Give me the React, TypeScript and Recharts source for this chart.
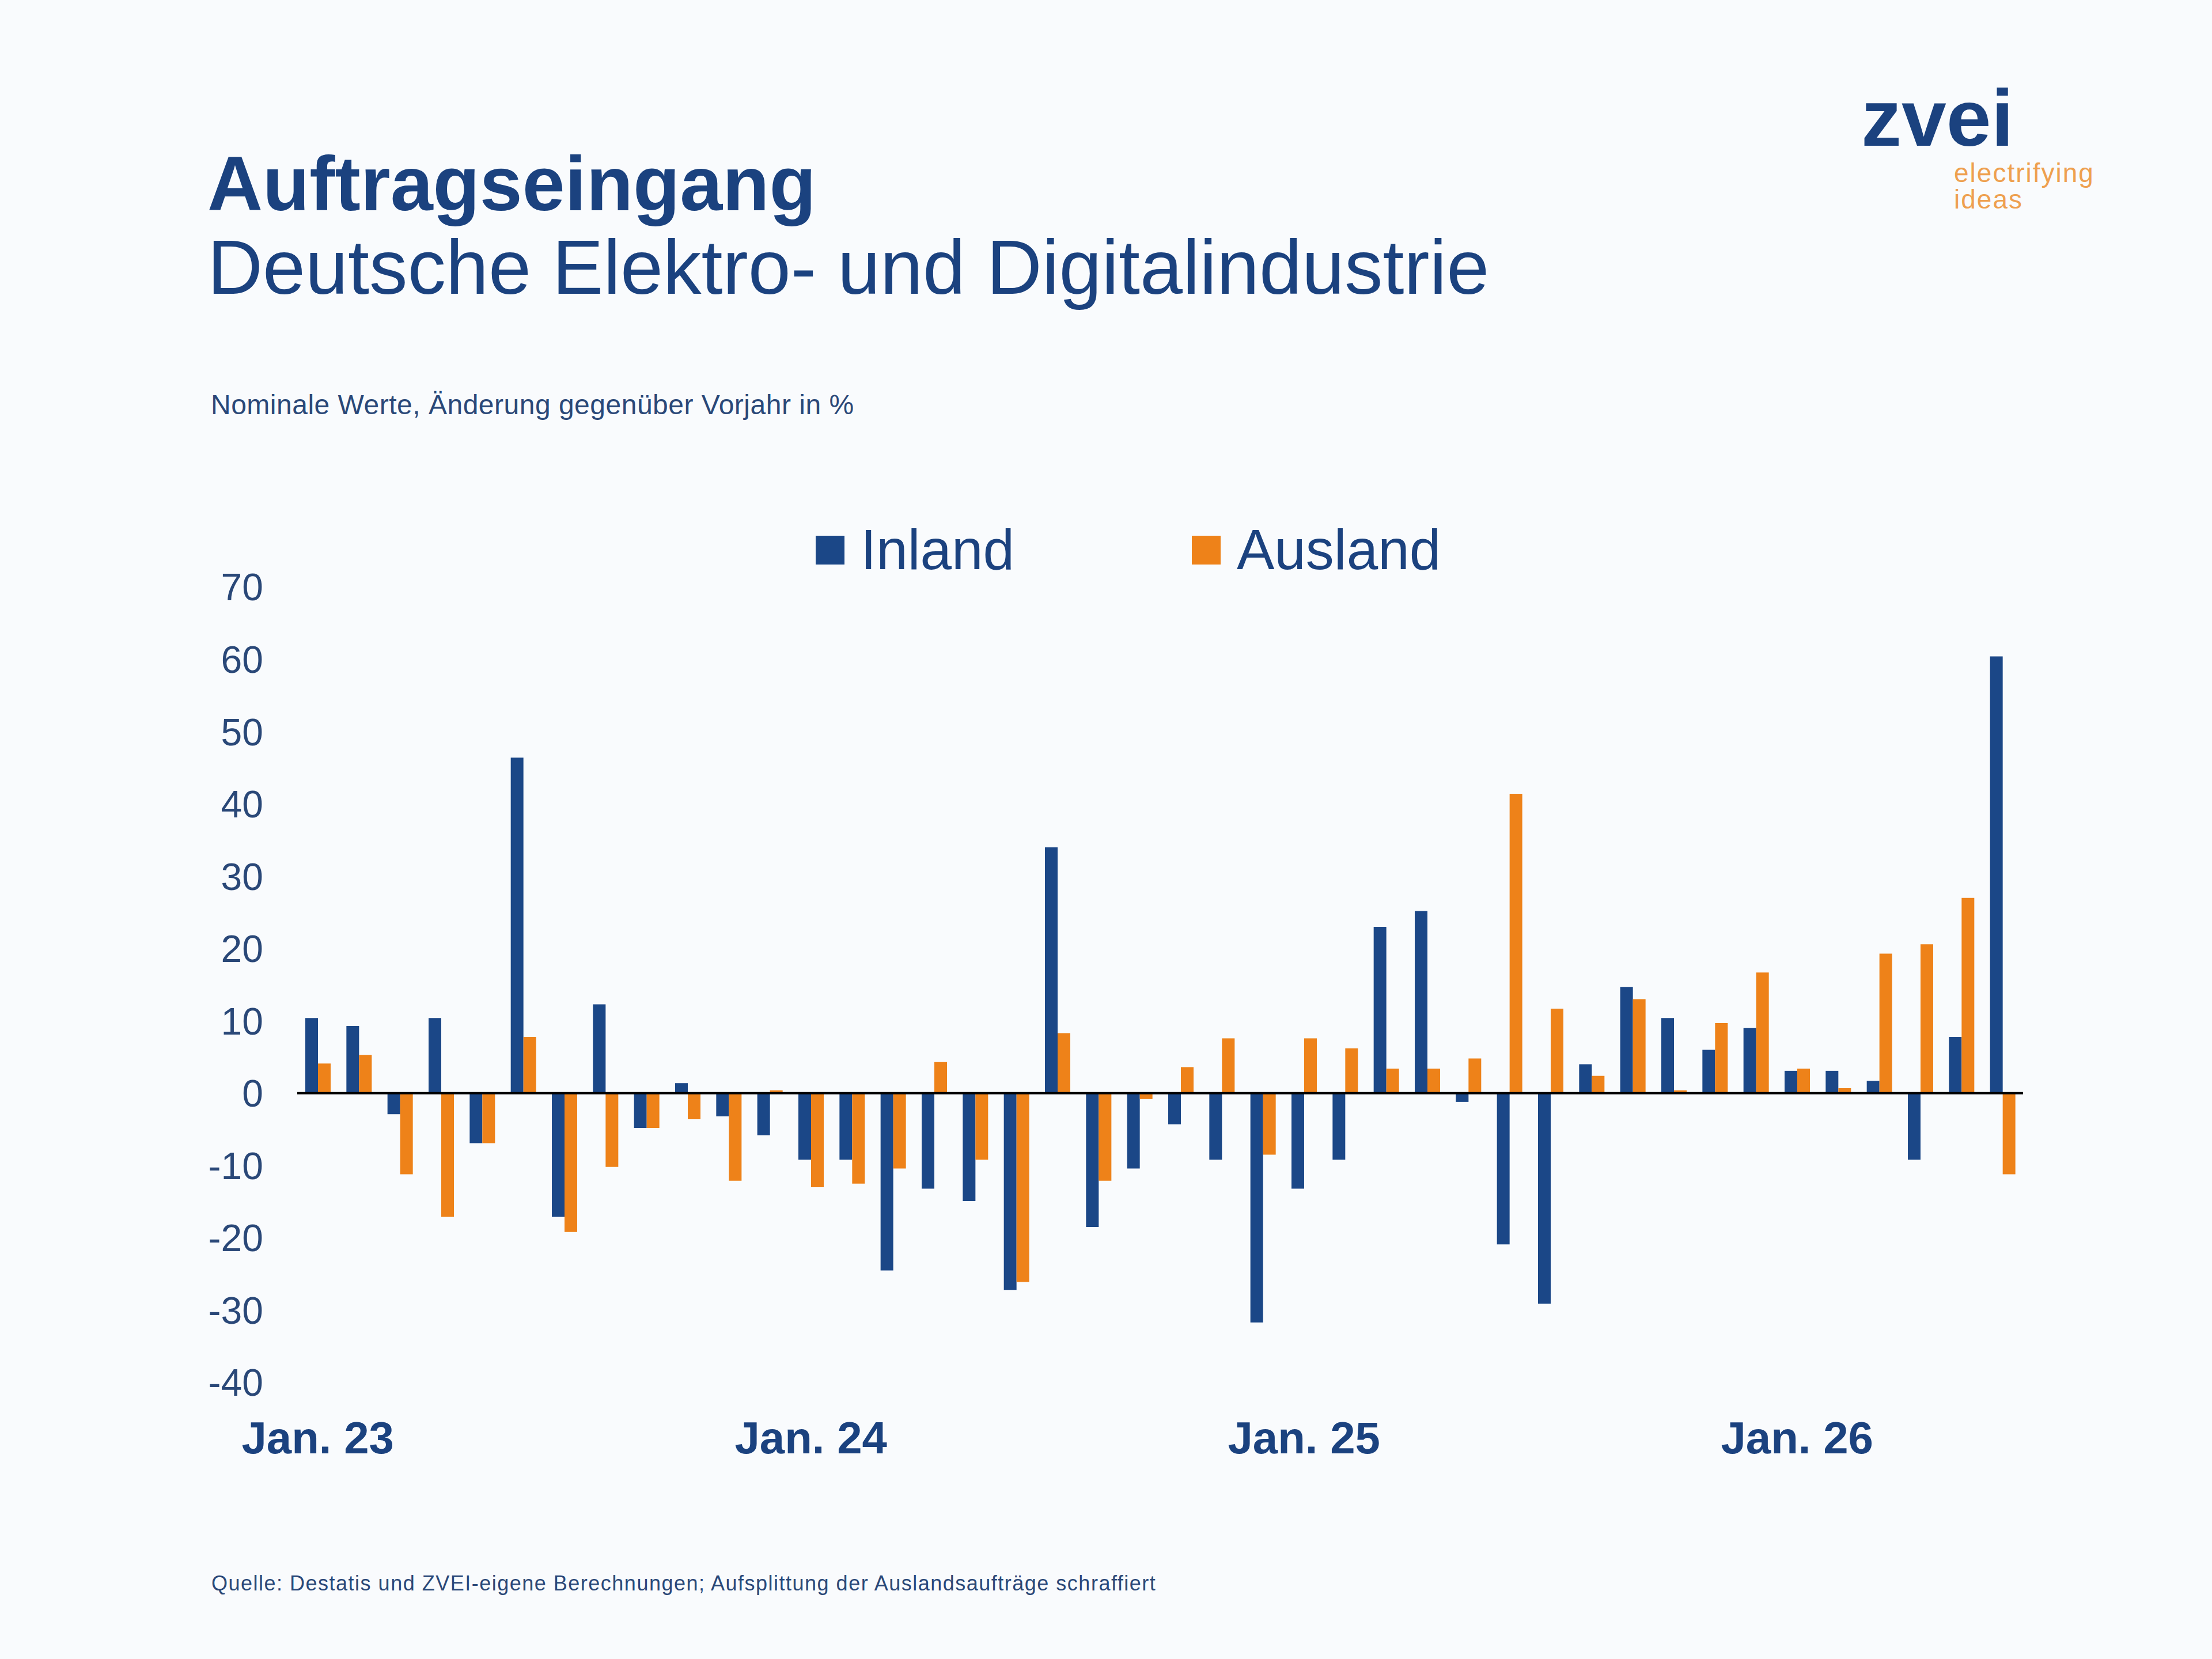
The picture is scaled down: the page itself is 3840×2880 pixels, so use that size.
import React from 'react';
import { BarChart, Bar, XAxis, YAxis, ReferenceLine } from 'recharts';

const monthNames = ['Jan.', 'Feb.', 'Mär.', 'Apr.', 'Mai', 'Jun.', 'Jul.', 'Aug.', 'Sep.', 'Okt.', 'Nov.', 'Dez.'];
const years = ['23', '24', '25', '26'];
const months = years.flatMap((y) => monthNames.map((m) => `${m} ${y}`)).slice(0, 42);

const inland = [
  10.4, 9.3, -2.9, 10.4, -6.9, 46.4, -17.1, 12.3, -4.8, 1.4, -3.2, -5.8,
  -9.2, -9.2, -24.5, -13.2, -14.9, -27.2, 34.0, -18.5, -10.4, -4.3, -9.2, -31.7,
  -13.2, -9.2, 23.0, 25.2, -1.2, -20.9, -29.1, 4.0, 14.7, 10.4, 6.0, 9.0,
  3.1, 3.1, 1.7, -9.2, 7.8, 60.4,
];

const ausland = [
  4.1, 5.3, -11.2, -17.1, -6.9, 7.8, -19.2, -10.2, -4.8, -3.6, -12.1, 0.4,
  -13.0, -12.5, -10.4, 4.3, -9.2, -26.1, 8.3, -12.1, -0.8, 3.6, 7.6, -8.5,
  7.6, 6.2, 3.4, 3.4, 4.8, 41.4, 11.7, 2.4, 13.0, 0.4, 9.7, 16.7,
  3.4, 0.7, 19.3, 20.6, 27.0, -11.2,
];

const xTicks = ['Jan. 23', 'Jan. 24', 'Jan. 25', 'Jan. 26'];
const yTicks = [-40, -30, -20, -10, 0, 10, 20, 30, 40, 50, 60, 70];

const data = months.map((month, i) => ({ month, inland: inland[i], ausland: ausland[i] }));

const BLUE = '#1b4787';
const ORANGE = '#ee8219';
const TEXT = '#1b427f';
const SMALL_TEXT = '#2a4878';
const FONT = '"Liberation Sans", Arial, sans-serif';

const legendItems = [
  { label: 'Inland', color: BLUE, x: 1416 },
  { label: 'Ausland', color: ORANGE, x: 2069 },
];

function ChartLegend() {
  return (
    <>
      {legendItems.map((it) => (
        <React.Fragment key={it.label}>
          <div style={{ position: 'absolute', left: it.x, top: 930, width: 50, height: 50, background: it.color }} />
          <div
            style={{
              position: 'absolute',
              left: it.x + 78,
              top: 905,
              fontSize: 98,
              lineHeight: '98px',
              color: TEXT,
              whiteSpace: 'nowrap',
            }}
          >
            {it.label}
          </div>
        </React.Fragment>
      ))}
    </>
  );
}

export default function App() {
  return (
    <div
      style={{
        position: 'absolute',
        left: 0,
        top: 0,
        width: 3840,
        height: 2880,
        background: '#f9fbfd',
        fontFamily: FONT,
        overflow: 'hidden',
      }}
    >
      <div style={{ position: 'absolute', left: 360, top: 253, fontSize: 133, lineHeight: '133px', fontWeight: 700, color: TEXT }}>
        Auftragseingang
      </div>
      <div style={{ position: 'absolute', left: 360, top: 398, fontSize: 133, lineHeight: '133px', color: TEXT, whiteSpace: 'nowrap' }}>
        Deutsche Elektro- und Digitalindustrie
      </div>
      <div style={{ position: 'absolute', left: 366, top: 679, fontSize: 48, lineHeight: '48px', letterSpacing: 0.5, color: SMALL_TEXT, whiteSpace: 'nowrap' }}>
        Nominale Werte, Änderung gegenüber Vorjahr in %
      </div>

      <div style={{ position: 'absolute', left: 3231, top: 135, fontSize: 140, lineHeight: '140px', fontWeight: 700, color: TEXT }}>
        zvei
      </div>
      <div style={{ position: 'absolute', left: 3392, top: 277, fontSize: 46, lineHeight: '46px', letterSpacing: 2, color: '#eea04f' }}>
        electrifying
      </div>
      <div style={{ position: 'absolute', left: 3392, top: 323, fontSize: 46, lineHeight: '46px', letterSpacing: 2, color: '#eea04f' }}>
        ideas
      </div>

      <ChartLegend />

      <div style={{ position: 'absolute', left: 0, top: 0 }}>
        <BarChart
          width={3840}
          height={2880}
          data={data}
          barSize={22}
          barGap={0}
          margin={{ top: 1019, right: 328, bottom: 280, left: 0 }}
          style={{ fontFamily: FONT }}
        >
          <XAxis
            dataKey="month"
            ticks={xTicks}
            interval={0}
            axisLine={false}
            tickLine={false}
            height={200}
            tickMargin={62}
            tick={{ fontSize: 78, fontWeight: 700, fill: TEXT, fontFamily: FONT }}
          />
          <YAxis
            domain={[-40, 70]}
            ticks={yTicks}
            interval={0}
            width={516}
            axisLine={false}
            tickLine={false}
            tickMargin={53}
            tick={{ fontSize: 66, fill: SMALL_TEXT, fontFamily: FONT }}
          />
          <Bar dataKey="inland" name="Inland" fill={BLUE} isAnimationActive={false} />
          <Bar dataKey="ausland" name="Ausland" fill={ORANGE} isAnimationActive={false} />
          <ReferenceLine y={0} stroke="#000000" strokeWidth={4} />
        </BarChart>
      </div>

      <div style={{ position: 'absolute', left: 367, top: 2731, fontSize: 36, lineHeight: '36px', letterSpacing: 1.5, color: SMALL_TEXT, whiteSpace: 'nowrap' }}>
        Quelle: Destatis und ZVEI-eigene Berechnungen; Aufsplittung der Auslandsaufträge schraffiert
      </div>
    </div>
  );
}
